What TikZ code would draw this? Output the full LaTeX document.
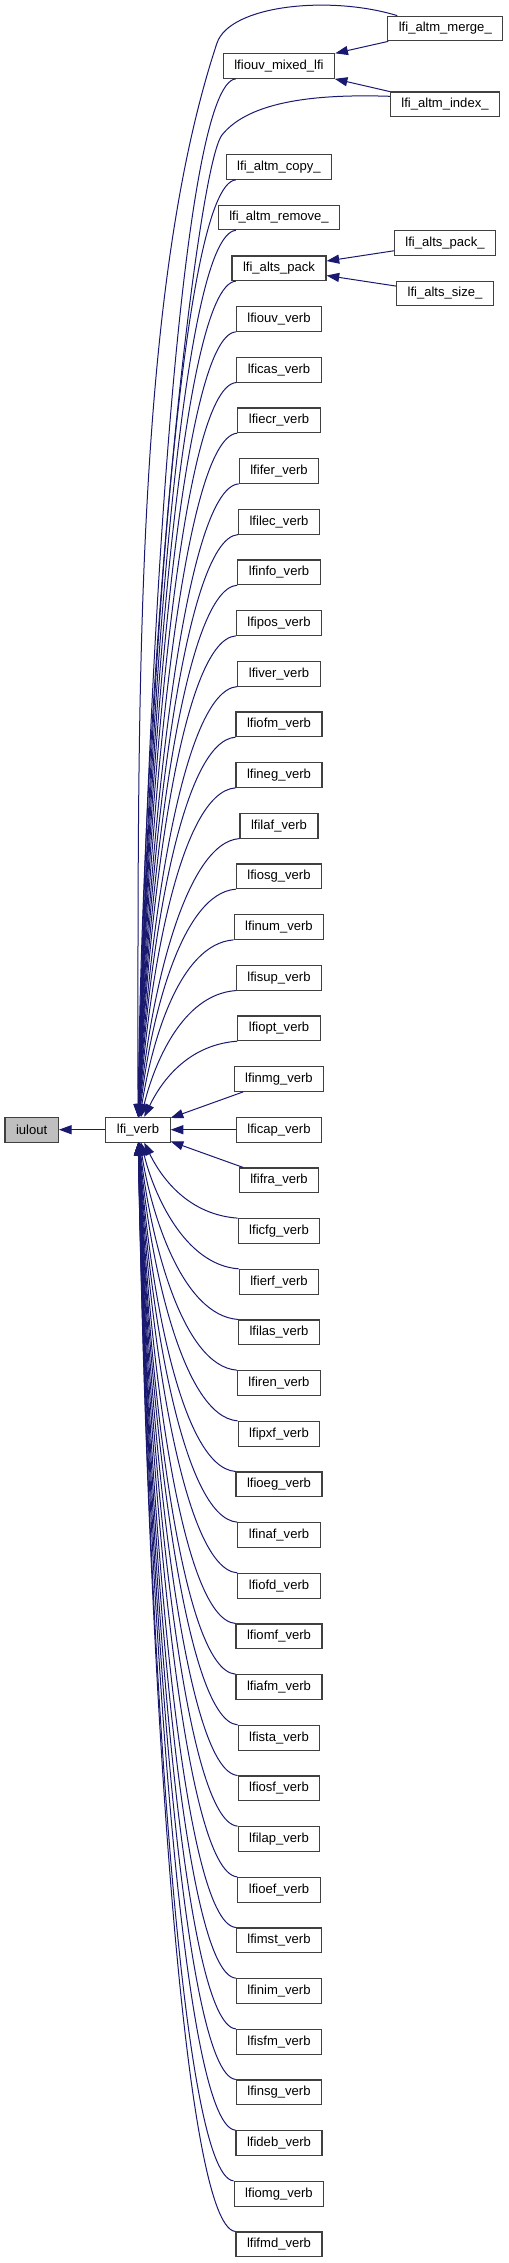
\documentclass[tikz,border=0pt]{standalone}
\usepackage{fontspec}
\setmainfont{Liberation Sans}
\usetikzlibrary{arrows.meta,calc}
\definecolor{edgeblue}{HTML}{191970}
\definecolor{callgray}{HTML}{BFBFBF}
\tikzset{
  box/.style={draw=black!75,line width=0.8pt,fill=white,minimum height=18.5pt,
    inner xsep=8.3pt,inner ysep=0pt,font=\fontsize{9.8}{11}\selectfont},
  edge/.style={draw=edgeblue,line width=0.75pt,-{Triangle[length=9.5pt,width=6.8pt]}}
}
\begin{document}
\catcode`\_=12
\begin{tikzpicture}[x=0.75pt,y=-0.75pt]
 \useasboundingbox (0,0) rectangle (508,2263);
 \node[box,fill=callgray] (iulout) at (31.7,1129.7) {iulout};
 \node[box] (verb) at (138,1129.7) {lfi_verb};
 \node[box] (merge) at (445.3,28.5) {lfi_altm_merge_};
 \node[box] (mixed) at (279,66) {lfiouv_mixed_lfi};
 \node[box] (index) at (445,104.3) {lfi_altm_index_};
 \node[box] (copy) at (279,167) {lfi_altm_copy_};
 \node[box] (remove) at (279,217.5) {lfi_altm_remove_};
 \node[box] (packu) at (445,243) {lfi_alts_pack_};
 \node[box] (pack) at (279,268.3) {lfi_alts_pack};
 \node[box] (size) at (445,293.5) {lfi_alts_size_};
 \node[box] (ouv) at (279,319.0) {lfiouv_verb};
 \node[box] (cas) at (279,369.7) {lficas_verb};
 \node[box] (ecr) at (279,420.3) {lfiecr_verb};
 \node[box] (fer) at (279,471.0) {lfifer_verb};
 \node[box] (lec) at (279,521.7) {lfilec_verb};
 \node[box] (nfo) at (279,572.3) {lfinfo_verb};
 \node[box] (pos) at (279,623.0) {lfipos_verb};
 \node[box] (ver) at (279,673.7) {lfiver_verb};
 \node[box] (ofm) at (279,724.3) {lfiofm_verb};
 \node[box] (neg) at (279,775.0) {lfineg_verb};
 \node[box] (laf) at (279,825.7) {lfilaf_verb};
 \node[box] (osg) at (279,876.3) {lfiosg_verb};
 \node[box] (num) at (279,927.0) {lfinum_verb};
 \node[box] (sup) at (279,977.7) {lfisup_verb};
 \node[box] (opt) at (279,1028.3) {lfiopt_verb};
 \node[box] (nmg) at (279,1079.0) {lfinmg_verb};
 \node[box] (cap) at (279,1129.7) {lficap_verb};
 \node[box] (fra) at (279,1180.3) {lfifra_verb};
 \node[box] (cfg) at (279,1231.0) {lficfg_verb};
 \node[box] (erf) at (279,1281.7) {lfierf_verb};
 \node[box] (las) at (279,1332.3) {lfilas_verb};
 \node[box] (ren) at (279,1383.0) {lfiren_verb};
 \node[box] (pxf) at (279,1433.7) {lfipxf_verb};
 \node[box] (oeg) at (279,1484.3) {lfioeg_verb};
 \node[box] (naf) at (279,1535.0) {lfinaf_verb};
 \node[box] (ofd) at (279,1585.7) {lfiofd_verb};
 \node[box] (omf) at (279,1636.3) {lfiomf_verb};
 \node[box] (afm) at (279,1687.0) {lfiafm_verb};
 \node[box] (sta) at (279,1737.7) {lfista_verb};
 \node[box] (osf) at (279,1788.3) {lfiosf_verb};
 \node[box] (lap) at (279,1839.0) {lfilap_verb};
 \node[box] (oef) at (279,1889.7) {lfioef_verb};
 \node[box] (mst) at (279,1940.3) {lfimst_verb};
 \node[box] (nim) at (279,1991.0) {lfinim_verb};
 \node[box] (sfm) at (279,2041.7) {lfisfm_verb};
 \node[box] (nsg) at (279,2092.3) {lfinsg_verb};
 \node[box] (deb) at (279,2143.0) {lfideb_verb};
 \node[box] (omg) at (279,2193.7) {lfiomg_verb};
 \node[box] (fmd) at (279,2244.3) {lfifmd_verb};
 \draw[edge] (verb) -- (iulout);
 \draw[edge] (merge) -- (mixed);
 \draw[edge] (index) -- (mixed);
 \draw[edge] (packu) -- (pack);
 \draw[edge] (size) -- (pack);
 \draw[edge] (nmg) -- (verb);
 \draw[edge] (cap) -- (verb);
 \draw[edge] (fra) -- (verb);
 \draw[edge] ($(merge.north west)+(10,0)$) .. controls (330,-5) and (230,5) .. (217,43)
   .. controls (134,293) and (138,700) .. (verb);
 \draw[edge] ($(index.west)+(0,-8)$) .. controls (320,94) and (250,100) .. (222,135)
   .. controls (198,165) and (143,640) .. (verb);
 \foreach \nm in {mixed,copy,remove,pack}
  \draw[edge] let \p1=(\nm.south -| ouv.west), \p2=(verb.center), \n1={\y1-\y2} in
   (\p1) .. controls ({\x1-41.25pt},{\y1-3pt}) and ({\x2+6pt+562.5pt/\n1},{\y2+0.45*\n1*1pt}) .. (verb);
 \foreach \nm in {ouv,cas,ecr,fer,lec,nfo,pos,ver,ofm,neg,laf,osg,num,sup,opt}
  \draw[edge] let \p1=(\nm.south west), \p2=(verb.center), \n1={\y1-\y2} in
   (\p1) .. controls ({\x1-41.25pt},{\y1-3pt}) and ({\x2+6pt+562.5pt/\n1},{\y2+0.45*\n1*1pt}) .. (verb);
 \foreach \nm in {cfg,erf,las,ren,pxf,oeg,naf,ofd,omf,afm,sta,osf,lap,oef,mst,nim,sfm,nsg,deb,omg,fmd}
  \draw[edge] let \p1=(\nm.north west), \p2=(verb.center), \n1={\y2-\y1} in
   (\p1) .. controls ({\x1-41.25pt},{\y1+3pt}) and ({\x2+6pt+562.5pt/\n1},{\y2-0.45*\n1*1pt}) .. (verb);
\end{tikzpicture}
\end{document}
